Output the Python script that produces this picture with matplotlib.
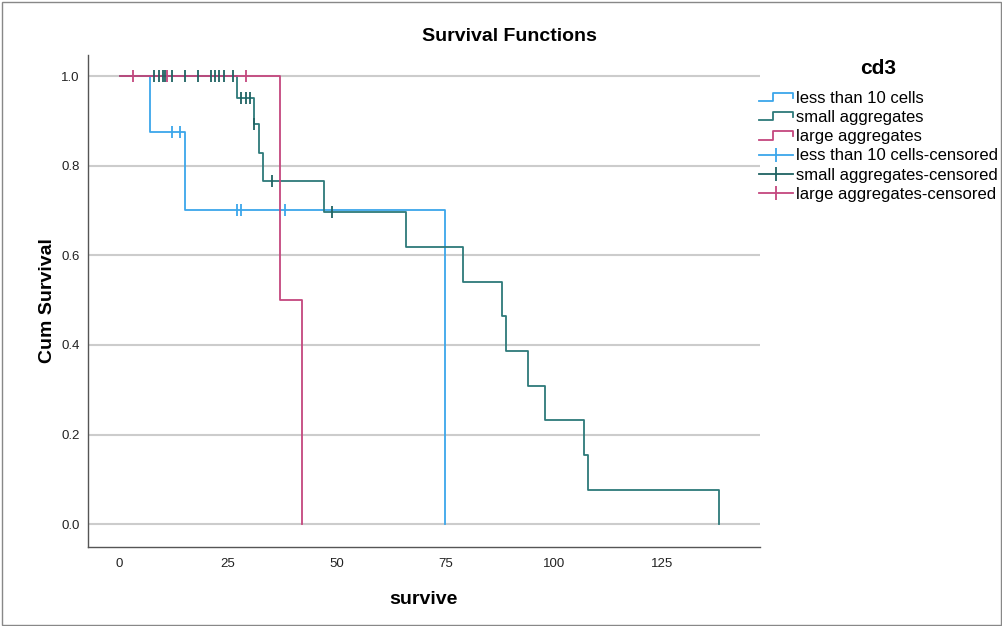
import matplotlib
matplotlib.use("Agg")
from matplotlib import pyplot as plt
from matplotlib.legend_handler import HandlerBase
from matplotlib.lines import Line2D
from matplotlib.patches import Rectangle

plt.rcParams["font.family"] = ["Liberation Sans", "DejaVu Sans"]

# step curves: event times and survival after each step
less10_times = [0, 7, 15, 75]
less10_surv = [1.0, 0.875, 0.70, 0.0]
small_times = [0, 27, 31, 32, 33, 47, 66, 79, 88, 89, 94, 98, 107, 108, 138]
small_surv = [1.0, 0.952, 0.893, 0.829, 0.766, 0.696, 0.618, 0.541, 0.464,
              0.387, 0.309, 0.232, 0.155, 0.077, 0.0]
large_times = [0, 37, 42]
large_surv = [1.0, 0.5, 0.0]

# censored observations
less10_cens_t = [12, 14, 27, 28, 38]
less10_cens_s = [0.875, 0.875, 0.70, 0.70, 0.70]
small_cens_t = [8, 9, 10, 10.5, 12, 15, 18, 21, 22, 23, 24, 26, 28, 29, 30, 31, 35, 49]
small_cens_s = [1.0] * 12 + [0.952, 0.952, 0.952, 0.893, 0.766, 0.696]
large_cens_t = [3, 11, 29]
large_cens_s = [1.0, 1.0, 1.0]

labels = ["less than 10 cells", "small aggregates", "large aggregates"]
colors = ["#3ba6ea", "#2d7a7a", "#c4477e"]
cens_colors = ["#3ba6ea", "#1f6262", "#c4477e"]


class HandlerStep(HandlerBase):
    def create_artists(self, legend, orig_handle, xdescent, ydescent,
                       width, height, fontsize, trans):
        x0, y0 = -xdescent, -ydescent
        xs = [x0, x0 + 0.4 * width, x0 + 0.4 * width, x0 + width, x0 + width]
        ys = [y0 + 0.15 * height, y0 + 0.15 * height, y0 + 0.85 * height,
              y0 + 0.85 * height, y0 + 0.45 * height]
        ln = Line2D(xs, ys, color=orig_handle.get_color(), lw=1.3, transform=trans)
        return [ln]


fig = plt.figure(figsize=(10.03, 6.26), dpi=100)
ax = fig.add_axes([0.0877, 0.1262, 0.670, 0.786])

series = [
    (less10_times, less10_surv, less10_cens_t, less10_cens_s),
    (small_times, small_surv, small_cens_t, small_cens_s),
    (large_times, large_surv, large_cens_t, large_cens_s),
]
step_handles = []
cens_handles = []
for (t, s, ct, cs), c, cc, lab in zip(series, colors, cens_colors, labels):
    xs = [t[0]]
    ys = [s[0]]
    for i in range(1, len(t)):
        xs += [t[i], t[i]]
        ys += [s[i - 1], s[i]]
    h, = ax.plot(xs, ys, color=c, lw=1.3, zorder=3)
    ax.plot(ct, cs, linestyle="none", marker="|", ms=9, mew=1.3, color=cc, zorder=4)
    step_handles.append(h)
    cens_handles.append(Line2D([], [], color=cc, lw=1.3, marker="|", ms=10, mew=1.3))

ax.set_xlim(-7.3, 147.5)
ax.set_ylim(-0.051, 1.047)
ax.set_xticks([0, 25, 50, 75, 100, 125])
ax.set_yticks([0.0, 0.2, 0.4, 0.6, 0.8, 1.0])
ax.set_yticklabels(["0.0", "0.2", "0.4", "0.6", "0.8", "1.0"])
ax.grid(axis="y", color="#cccccc", lw=1.5, zorder=0)
ax.tick_params(length=0, labelsize=9.5, colors="#222222")
ax.tick_params(axis="x", pad=8)
ax.tick_params(axis="y", pad=6)
for side in ["top", "right"]:
    ax.spines[side].set_visible(False)
for side in ["left", "bottom"]:
    ax.spines[side].set_color("#555555")
    ax.spines[side].set_linewidth(1.0)

ax.set_xlabel("survive", fontsize=14, fontweight="bold", labelpad=15)
ax.set_ylabel("Cum Survival", fontsize=14, fontweight="bold", labelpad=4)
fig.text(0.508, 0.942, "Survival Functions", ha="center", va="center",
         fontsize=14, fontweight="bold")

leg = fig.legend(
    step_handles + cens_handles,
    labels + [l + "-censored" for l in labels],
    handler_map={h: HandlerStep() for h in step_handles},
    loc="upper left",
    bbox_to_anchor=(0.757, 0.905),
    frameon=False,
    title="cd3",
    title_fontproperties={"weight": "bold", "size": 15},
    fontsize=12,
    handlelength=2.0,
    handletextpad=0.2,
    labelspacing=0.25,
    borderaxespad=0,
    borderpad=0,
)
leg._legend_box.sep = 9

fig.add_artist(Rectangle((0.0015, 0.002), 0.997, 0.995, transform=fig.transFigure,
                         fill=False, edgecolor="#888888", lw=1))

plt.savefig("out.png", dpi=100)
